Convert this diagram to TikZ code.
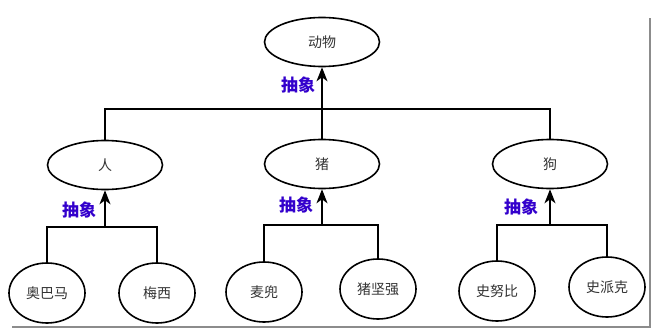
\documentclass[tikz,border=0pt]{standalone}
\usepackage{fontspec}
\setmainfont{Noto Sans CJK SC}
\usetikzlibrary{arrows.meta,shapes.geometric}
\definecolor{absblue}{RGB}{51,0,204}

\begin{document}
\begin{tikzpicture}[x=1pt,y=-1pt,
  cls/.style={draw,ellipse,line width=1.6pt,minimum width=115pt,minimum height=49pt,inner sep=0pt,font=\fontsize{14}{16}\selectfont,text=black!80},
  obj/.style={cls,minimum width=76pt,minimum height=60pt},
  link/.style={line width=1.6pt},
  arrow/.style={link,-{Stealth[length=14pt,width=11pt,inset=4pt]}},
  abs/.style={font=\fontsize{17}{19}\selectfont\bfseries,text=absblue}
]
\useasboundingbox (0,0) rectangle (660,334);
% shadow of the frame
\draw[black!45,line width=1.5pt] (12,327) -- (650,327) -- (650,18);

\node[cls] (animal) at (322,42) {动物};
\node[cls] (ren) at (105,165) {人};
\node[cls] (zhu) at (322,164) {猪};
\node[cls] (gou) at (550,164) {狗};

\node[obj] (obama) at (47,293) {奥巴马};
\node[obj] (messi) at (157,293) {梅西};
\node[obj] (maidou) at (264,292) {麦兜};
\node[obj] (zjq) at (378,289) {猪坚强};
\node[obj] (snoopy) at (497,291) {史努比};
\node[obj] (spike) at (607,287) {史派克};

\coordinate (jtop) at (322,109);
\coordinate (jren) at (105,227);
\coordinate (jzhu) at (322,225);
\coordinate (jgou) at (550,225);

\draw[arrow] (jtop) -- (animal);
\draw[link] (ren.north) -- (ren.north |- jtop) -- (gou.north |- jtop) -- (gou.north);
\draw[link] (zhu.north) -- (jtop);

\draw[arrow] (jren) -- (ren);
\draw[link] (obama.north) -- (obama.north |- jren) -- (messi.north |- jren) -- (messi.north);
\draw[arrow] (jzhu) -- (zhu);
\draw[link] (maidou.north) -- (maidou.north |- jzhu) -- (zjq.north |- jzhu) -- (zjq.north);
\draw[arrow] (jgou) -- (gou);
\draw[link] (snoopy.north) -- (snoopy.north |- jgou) -- (spike.north |- jgou) -- (spike.north);

\node[abs] (abs0) at (298,85) {抽象};
\node[abs] (abs1) at (79,210) {抽象};
\node[abs] (abs2) at (296,205) {抽象};
\node[abs] (abs3) at (521,207) {抽象};
\end{tikzpicture}
\end{document}
